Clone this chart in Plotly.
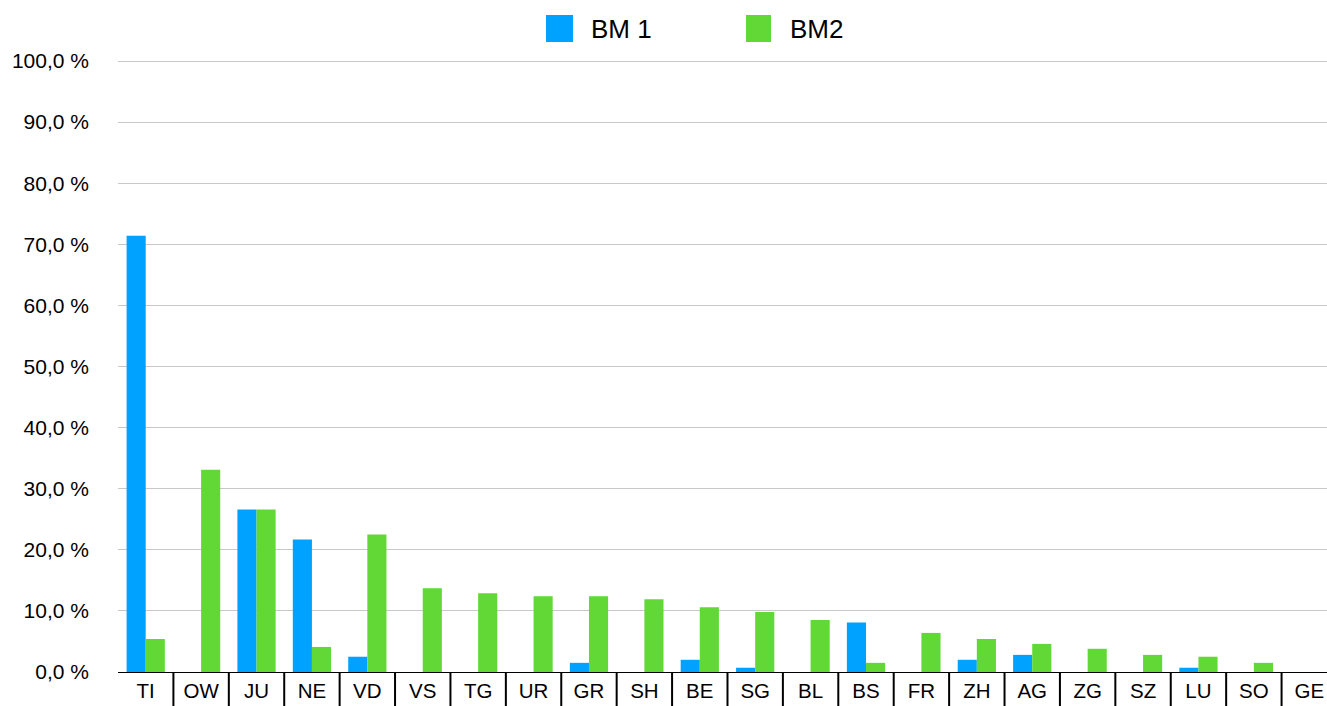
import plotly.graph_objects as go

categories = ["TI", "OW", "JU", "NE", "VD", "VS", "TG", "UR", "GR", "SH", "BE",
              "SG", "BL", "BS", "FR", "ZH", "AG", "ZG", "SZ", "LU", "SO", "GE"]
bm1 = [71.4, 0, 26.6, 21.7, 2.5, 0, 0, 0, 1.5, 0, 2.0,
       0.7, 0, 8.1, 0, 2.0, 2.8, 0, 0, 0.7, 0, 0]
bm2 = [5.4, 33.1, 26.6, 4.1, 22.5, 13.7, 12.9, 12.4, 12.4, 11.9, 10.6,
       9.8, 8.5, 1.5, 6.4, 5.4, 4.6, 3.8, 2.8, 2.5, 1.5, 0]
series_names = ["BM 1", "BM2"]
colors = ["#00A2FF", "#61D836"]
y_ticks = [0, 10, 20, 30, 40, 50, 60, 70, 80, 90, 100]
y_tick_labels = [f"{v:.1f}".replace(".", ",") + " %" for v in y_ticks]

FONT = "Helvetica, 'Liberation Sans', Arial, sans-serif"
W, H = 1327, 706
ML, MR, MT, MB = 118, 0, 61, 34
plot_w = W - ML - MR
plot_h = H - MT - MB
GRID = "#C8C8C8"

fig = go.Figure()
for name, vals, col in zip(series_names, [bm1, bm2], colors):
    fig.add_trace(go.Bar(x=categories, y=vals, name=name, marker_color=col,
                         marker_line_width=0, showlegend=False))

# top gridline (plotly omits gridlines on the plot edge); drawn crisp just inside the edge
fig.add_shape(type="line", xref="paper", yref="paper", x0=0, x1=1,
              y0=1 - 0.5 / plot_h, y1=1 - 0.5 / plot_h, line=dict(color=GRID, width=1))

# category separators below the axis
n = len(categories)
for i in range(n - 1):
    fig.add_shape(type="line", xref="x", yref="paper", x0=i + 0.5, x1=i + 0.5,
                  y0=0, y1=-MB / plot_h, line=dict(color="black", width=2))

# custom legend (large swatches)
def px_x(p):
    return (p - ML) / plot_w

def px_y(p):
    return (H - MB - p) / plot_h

legend_items = [(546, 573, 589), (746, 771, 788)]
for (sx0, sx1, tx), name, col in zip(legend_items, series_names, colors):
    fig.add_shape(type="rect", xref="paper", yref="paper",
                  x0=px_x(sx0), x1=px_x(sx1), y0=px_y(42), y1=px_y(15),
                  fillcolor=col, line_width=0)
    fig.add_annotation(xref="paper", yref="paper", x=px_x(tx), y=px_y(29),
                       text=name, showarrow=False, xanchor="left", yanchor="middle",
                       font=dict(family=FONT, size=26, color="black"))

fig.update_layout(
    width=W, height=H,
    margin=dict(l=ML, r=MR, t=MT, b=MB),
    paper_bgcolor="white", plot_bgcolor="white",
    barmode="group", bargap=0.31, bargroupgap=0,
    font=dict(family=FONT, size=20, color="black"),
)
fig.update_xaxes(
    type="category", range=[-0.5, n - 0.68],
    showline=True, linecolor="black", linewidth=1,
    showgrid=False, ticks="", tickfont=dict(size=20.5),
)
fig.update_yaxes(
    range=[0, 100], tickmode="array", tickvals=y_ticks, ticktext=y_tick_labels,
    showgrid=True, gridcolor=GRID, gridwidth=1,
    zeroline=False, showline=False, ticks="",
    ticklabelstandoff=28, tickfont=dict(size=21),
)

fig.write_html("out.html")
